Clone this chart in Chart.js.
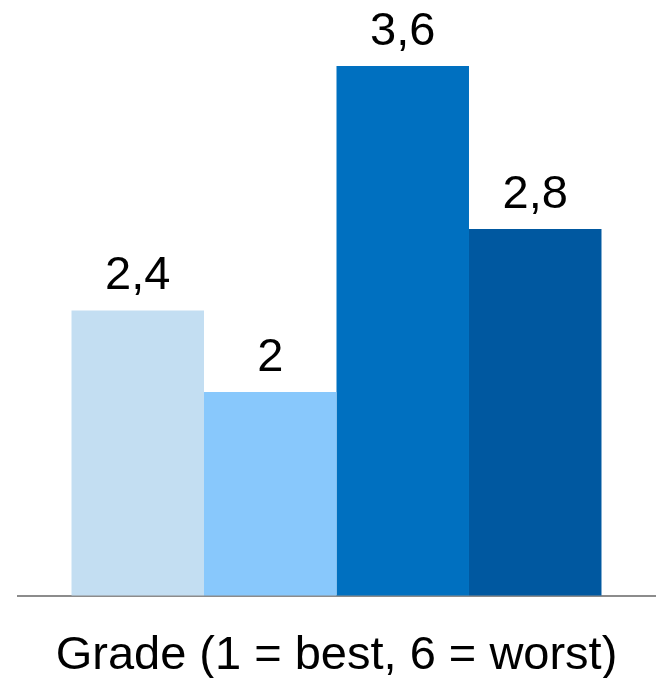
<!DOCTYPE html>
<html>
<head>
<meta charset="utf-8">
<script src="https://cdn.jsdelivr.net/npm/chart.js@4/dist/chart.umd.min.js"></script>
<style>
  html, body { margin: 0; padding: 0; background: #fff; }
  #wrap { width: 669px; height: 678px; position: relative; }
</style>
</head>
<body>
<div id="wrap"><canvas id="gradeChart"></canvas></div>
<script>
// datos del gráfico
const categories = ['Grade (1 = best, 6 = worst)'];
const seriesNames = ['Group A', 'Group B', 'Group C', 'Group D'];
const seriesValues = [2.4, 2, 3.6, 2.8];
const seriesColors = ['#c3def2', '#88c8fc', '#0070c0', '#0058a0'];

const FONT = "'Liberation Sans', Arial, sans-serif";

// etiquetas de valor encima de cada barra (coma decimal)
const valueLabels = {
    id: 'valueLabels',
    afterDatasetsDraw(chart) {
        const ctx = chart.ctx;
        ctx.save();
        ctx.fillStyle = '#000';
        ctx.font = '47px ' + FONT;
        ctx.textAlign = 'center';
        ctx.textBaseline = 'alphabetic';
        chart.data.datasets.forEach((ds, i) => {
            const bar = chart.getDatasetMeta(i).data[0];
            if (!bar) return;
            const txt = String(ds.data[0]).replace('.', ',');
            ctx.fillText(txt, bar.x, bar.y - 21);
        });
        ctx.restore();
    }
};

const datasets = seriesValues.map((v, i) => ({
    label: seriesNames[i],
    data: [v],
    backgroundColor: seriesColors[i],
    borderWidth: 0,
    barPercentage: 1,
    categoryPercentage: 0.832
}));

new Chart(document.getElementById('gradeChart'), {
    type: 'bar',
    data: { labels: categories, datasets: datasets },
    options: {
        responsive: true,
        maintainAspectRatio: false,
        animation: false,
        layout: { padding: { left: 18, right: 14, top: 5, bottom: -30 } },
        plugins: {
            legend: { display: false },
            tooltip: { enabled: false }
        },
        scales: {
            x: {
                grid: { display: false },
                border: { display: true, color: '#8c8c8c', width: 2 },
                ticks: {
                    color: '#000',
                    padding: 24,
                    font: { family: FONT, size: 47 }
                }
            },
            y: {
                display: false,
                min: 1,
                max: 3.9
            }
        }
    },
    plugins: [valueLabels]
});
</script>
</body>
</html>
